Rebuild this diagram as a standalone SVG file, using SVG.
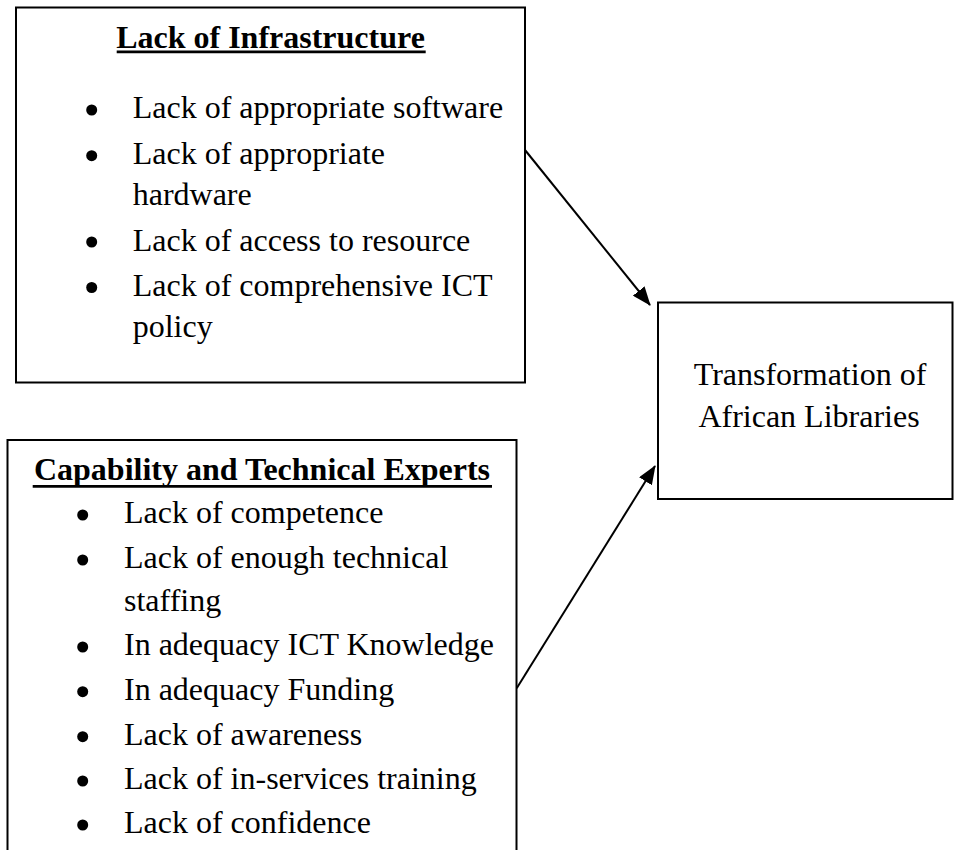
<svg xmlns="http://www.w3.org/2000/svg" width="955" height="850" viewBox="0 0 955 850">
<style>
.box{fill:#fff;stroke:#000;stroke-width:2}
.t{font-family:"Liberation Serif","Times New Roman",serif;font-size:32px;fill:#000}
.h{font-weight:bold}
.u{stroke:#000;stroke-width:2.7}
.b{fill:#000}
.c{stroke:#000;stroke-width:2;fill:none}
</style>
<defs>
<marker id="ah" markerUnits="userSpaceOnUse" markerWidth="19" markerHeight="15" refX="18" refY="7.5" orient="auto">
<path d="M0,0 L19,7.5 L0,15 z" fill="#000"/>
</marker>
</defs>
<rect width="955" height="850" fill="#fff"/>
<g id="infrastructure">
<rect class="box" x="16" y="7.5" width="509" height="375"/>
<text class="t h" x="270.5" y="48.3" text-anchor="middle">Lack of Infrastructure</text>
<line class="u" x1="116.7" y1="51.8" x2="425.7" y2="51.8"/>
<circle class="b" cx="91.7" cy="110" r="5.5"/>
<text class="t" x="132.7" y="118.3">Lack of appropriate software</text>
<circle class="b" cx="91.7" cy="155.7" r="5.5"/>
<text class="t" x="132.7" y="164">Lack of appropriate</text>
<text class="t" x="132.7" y="204.5">hardware</text>
<circle class="b" cx="91.7" cy="242" r="5.5"/>
<text class="t" x="132.7" y="250.5">Lack of access to resource</text>
<circle class="b" cx="91.7" cy="287.5" r="5.5"/>
<text class="t" x="132.7" y="295.8">Lack of comprehensive ICT</text>
<text class="t" x="132.7" y="336.7">policy</text>
</g>
<g id="capability">
<rect class="box" x="7.5" y="440" width="509" height="430"/>
<text class="t h" x="262" y="480" text-anchor="middle">Capability and Technical Experts</text>
<line class="u" x1="32.7" y1="486.3" x2="492" y2="486.3"/>
<circle class="b" cx="82.7" cy="515" r="5.5"/>
<text class="t" x="124" y="523.3">Lack of competence</text>
<circle class="b" cx="82.7" cy="560" r="5.5"/>
<text class="t" x="124" y="568.3">Lack of enough technical</text>
<text class="t" x="124" y="610.7">staffing</text>
<circle class="b" cx="82.7" cy="647" r="5.5"/>
<text class="t" x="124" y="655.3">In adequacy ICT Knowledge</text>
<circle class="b" cx="82.7" cy="691.7" r="5.5"/>
<text class="t" x="124" y="700">In adequacy Funding</text>
<circle class="b" cx="82.7" cy="736.7" r="5.5"/>
<text class="t" x="124" y="745">Lack of awareness</text>
<circle class="b" cx="82.7" cy="781" r="5.5"/>
<text class="t" x="124" y="789.3">Lack of in-services training</text>
<circle class="b" cx="82.7" cy="825" r="5.5"/>
<text class="t" x="124" y="833.3">Lack of confidence</text>
</g>
<g id="transformation">
<rect class="box" x="658" y="302.5" width="294.5" height="196.5"/>
<text class="t" x="810" y="385" text-anchor="middle">Transformation of</text>
<text class="t" x="809" y="427.3" text-anchor="middle">African Libraries</text>
</g>
<g id="connectors">
<line class="c" x1="525" y1="150" x2="650" y2="305" marker-end="url(#ah)"/>
<line class="c" x1="516.7" y1="688.3" x2="655" y2="466" marker-end="url(#ah)"/>
</g>
</svg>
